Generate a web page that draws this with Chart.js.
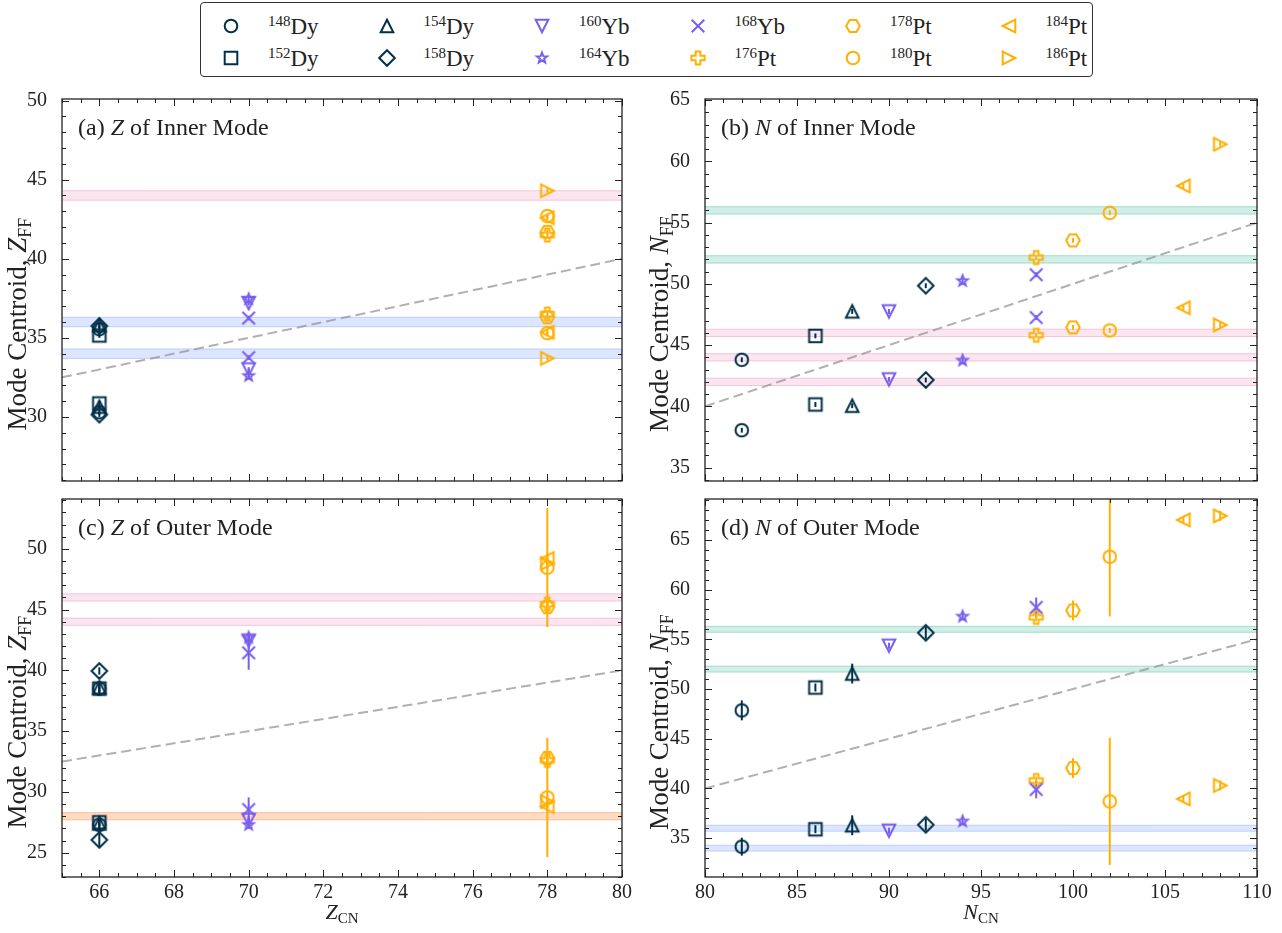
<!DOCTYPE html>
<html lang="en">
<head>
<meta charset="UTF-8">
<title>Mode centroids</title>
<script src="https://cdn.jsdelivr.net/npm/chart.js"></script>
<style>
  body { margin: 0; background: #fff; width: 1282px; height: 933px; position: relative; overflow: hidden; font-family: 'Liberation Serif', serif; color: #222; }
  #legend { position: absolute; left: 200px; top: 2px; width: 893px; height: 75px; border: 1px solid #333; border-radius: 4px; box-sizing: border-box; }
  .lab { position: absolute; font-size: 23px; line-height: 23px; white-space: nowrap; }
  .lab sup { font-size: 15px; vertical-align: 8px; line-height: 0; }
  .mk { position: absolute; }
</style>
</head>
<body>
<div id="legend"></div>
<script>
// isotopes (compound nuclei)
const massNums = ['148','152','154','158','160','164','168','176','178','180','184','186'];
const elements = ['Dy','Dy','Dy','Dy','Yb','Yb','Yb','Pt','Pt','Pt','Pt','Pt'];
const shapes   = ['o','s','^','D','v','*','x','P','H','o','<','>'];
const zCN = [66,66,66,66,70,70,70,78,78,78,78,78];
const nCN = [82,86,88,92,90,94,98,98,100,102,106,108];

// (a) Z of inner mode (upper / lower peak)
const zInnerHi = [35.55, 35.15, 35.8, 35.75, 37.2, 37.45, 36.25, 41.5, 41.7, 42.7, 42.6, 44.3];
const zInnerLo = [30.3, 30.85, 30.65, 30.15, 33.0, 32.6, 33.75, 36.5, 36.3, 35.3, 35.35, 33.7];
const zInnerErr = [0.15, 0.15, 0.15, 0.15, 0.15, 0.15, 0.15, 0.15, 0.15, 0.15, 0.15, 0.15];

// (b) N of inner mode
const nInnerHi = [43.8, 45.75, 47.75, 49.85, 47.75, 50.25, 50.75, 52.15, 53.55, 55.8, 58.0, 61.4];
const nInnerLo = [38.05, 40.15, 40.05, 42.15, 42.2, 43.75, 47.25, 45.8, 46.45, 46.2, 48.05, 46.65];
const nInnerErr = [0.2, 0.2, 0.2, 0.2, 0.2, 0.2, 0.2, 0.2, 0.2, 0.2, 0.2, 0.2];

// (c) Z of outer mode
const zOuterHi = [38.5, 38.5, 38.6, 39.95, 42.45, 42.7, 41.45, 45.45, 45.2, 48.45, 49.2, 48.8];
const zOuterLo = [27.3, 27.5, 27.4, 26.05, 27.7, 27.3, 28.55, 32.6, 32.8, 29.55, 28.8, 29.2];
const zOuterErrHi = [0.6, 0.3, 0.5, 0.3, 0.3, 0.3, 1.4, 0.4, 0.4, 4.9, 0.5, 0.5];
const zOuterErrLo = [0.7, 0.3, 0.5, 0.5, 0.3, 0.3, 1.0, 0.4, 0.4, 4.9, 0.5, 0.5];

// (d) N of outer mode
const nOuterHi = [47.85, 50.15, 51.55, 55.65, 54.35, 57.3, 58.2, 57.2, 57.9, 63.3, 67.0, 67.4];
const nOuterLo = [34.15, 35.9, 36.3, 36.35, 35.75, 36.7, 39.9, 40.8, 42.05, 38.7, 38.95, 40.3];
const nOuterErrHi = [1.0, 0.4, 1.0, 0.6, 0.3, 0.3, 1.0, 0.4, 1.0, 6.0, 0.3, 0.5];
const nOuterErrLo = [0.9, 0.4, 1.0, 0.6, 0.3, 0.3, 0.9, 0.4, 1.0, 6.4, 0.3, 0.5];

// shell-gap bands
const bandsA = [44, 36, 34],         bandsAKind = ['pink', 'blue', 'blue'];
const bandsB = [56, 52, 46, 44, 42], bandsBKind = ['green', 'green', 'pink', 'pink', 'pink'];
const bandsC = [46, 44, 28],         bandsCKind = ['pink', 'pink', 'orange'];
const bandsD = [56, 52, 36, 34],     bandsDKind = ['green', 'green', 'blue', 'blue'];

// tick labels
const zTicks = [66, 68, 70, 72, 74, 76, 78, 80];
const nTicks = [80, 85, 90, 95, 100, 105, 110];
const yTicksA = [30, 35, 40, 45, 50];
const yTicksB = [35, 40, 45, 50, 55, 60, 65];
const yTicksC = [25, 30, 35, 40, 45, 50];
const yTicksD = [35, 40, 45, 50, 55, 60, 65];

const colorOf = { Dy: '#003049', Yb: '#785ef0', Pt: '#ffb000' };
const bandFill = { pink: 'rgba(220,38,127,0.12)', blue: 'rgba(100,143,255,0.22)', green: 'rgba(30,175,135,0.2)', orange: 'rgba(254,110,20,0.25)' };
const bandEdge = { pink: 'rgba(220,38,127,0.22)', blue: 'rgba(100,143,255,0.35)', green: 'rgba(30,175,135,0.35)', orange: 'rgba(254,110,20,0.35)' };
const FONT = "'Liberation Serif', serif";
const INK = '#222';

Chart.defaults.font.family = FONT;
Chart.defaults.color = INK;

function markerCanvas(shape, color) {
  const c = document.createElement('canvas');
  c.width = 24; c.height = 24;
  const g = c.getContext('2d');
  g.translate(12, 12);
  g.strokeStyle = color;
  g.lineWidth = 2;
  g.beginPath();
  const poly = pts => { pts.forEach(([px, py], k) => k ? g.lineTo(px, py) : g.moveTo(px, py)); g.closePath(); };
  const r = 6.3;
  if (shape === 'o') g.arc(0, 0, r, 0, Math.PI * 2);
  else if (shape === 's') g.rect(-r, -r, 2 * r, 2 * r);
  else if (shape === '^') poly([[0, -r], [r, r], [-r, r]]);
  else if (shape === 'v') poly([[0, r], [r, -r], [-r, -r]]);
  else if (shape === '<') poly([[-r, 0], [r, -r], [r, r]]);
  else if (shape === '>') poly([[r, 0], [-r, -r], [-r, r]]);
  else if (shape === 'D') poly([[0, -7.8], [7.8, 0], [0, 7.8], [-7.8, 0]]);
  else if (shape === 'x') { g.moveTo(-r, -r); g.lineTo(r, r); g.moveTo(r, -r); g.lineTo(-r, r); }
  else if (shape === '*') {
    const pts = [];
    for (let k = 0; k < 10; k++) {
      const rr = k % 2 ? 2.3 : 5.4, an = -Math.PI / 2 + k * Math.PI / 5;
      pts.push([rr * Math.cos(an), rr * Math.sin(an)]);
    }
    poly(pts);
  } else if (shape === 'H') {
    const pts = [];
    for (let k = 0; k < 6; k++) { const an = k * Math.PI / 3; pts.push([6.8 * Math.cos(an), 6.8 * Math.sin(an)]); }
    poly(pts);
  } else if (shape === 'P') {
    const w = 2.3, L = 6.6;
    poly([[-w, -L], [w, -L], [w, -w], [L, -w], [L, w], [w, w], [w, L], [-w, L], [-w, w], [-L, w], [-L, -w], [-w, -w]]);
  }
  g.stroke();
  return c;
}

const markers = shapes.map((s, i) => markerCanvas(s, colorOf[elements[i]]));

// legend (html)
const legend = document.getElementById('legend');
massNums.forEach((m, i) => {
  const col = Math.floor(i / 2), row = i % 2;
  const mx = 230 + col * 155.5 - 200, my = 25 + row * 32 - 2;
  const mk = markerCanvas(shapes[i], colorOf[elements[i]]);
  mk.className = 'mk';
  mk.style.left = (mx - 12) + 'px';
  mk.style.top = (my - 12) + 'px';
  legend.appendChild(mk);
  const t = document.createElement('div');
  t.className = 'lab';
  t.style.left = (267 + col * 155.5 - 200) + 'px';
  t.style.top = (my - 11) + 'px';
  t.innerHTML = '<sup>' + m + '</sup>' + elements[i];
  legend.appendChild(t);
});

function drawRich(ctx, parts, x, y, align) {
  let w = 0;
  parts.forEach(p => { ctx.font = p.font; w += ctx.measureText(p.t).width; });
  let cx = align === 'center' ? x - w / 2 : x;
  parts.forEach(p => {
    ctx.font = p.font;
    ctx.fillText(p.t, cx, y + (p.dy || 0));
    cx += ctx.measureText(p.t).width;
  });
}

const rom = sz => `${sz}px ${FONT}`;
const ita = sz => `italic ${sz}px ${FONT}`;

function decoPlugin(cfg) {
  return {
    id: 'deco',
    beforeDatasetsDraw(chart) {
      const { ctx, chartArea: a, scales: { x, y } } = chart;
      ctx.save();
      ctx.beginPath();
      ctx.rect(a.left, a.top, a.right - a.left, a.bottom - a.top);
      ctx.clip();
      cfg.bands.forEach((b, k) => {
        const y1 = y.getPixelForValue(b + 0.3), y2 = y.getPixelForValue(b - 0.3);
        ctx.fillStyle = bandFill[cfg.bandKind[k]];
        ctx.fillRect(a.left, y1, a.right - a.left, y2 - y1);
        ctx.strokeStyle = bandEdge[cfg.bandKind[k]];
        ctx.lineWidth = 1;
        ctx.beginPath();
        ctx.moveTo(a.left, y1); ctx.lineTo(a.right, y1);
        ctx.moveTo(a.left, y2); ctx.lineTo(a.right, y2);
        ctx.stroke();
      });
      // error bars
      ctx.lineWidth = 2;
      cfg.xs.forEach((xv, i) => {
        ctx.strokeStyle = colorOf[elements[i]];
        const px = x.getPixelForValue(xv);
        [[cfg.hi[i], cfg.errHi[i]], [cfg.lo[i], cfg.errLo[i]]].forEach(([v, e]) => {
          ctx.beginPath();
          ctx.moveTo(px, y.getPixelForValue(v - e));
          ctx.lineTo(px, y.getPixelForValue(v + e));
          ctx.stroke();
        });
      });
      ctx.restore();
    },
    afterDraw(chart) {
      const { ctx, chartArea: a, scales: { x, y } } = chart;
      ctx.save();
      ctx.strokeStyle = INK;
      ctx.lineWidth = 1;
      ctx.beginPath();
      const n = Math.round((x.max - x.min) / cfg.xMinor);
      for (let k = 0; k <= n; k++) {
        const v = x.min + k * cfg.xMinor;
        const major = Math.abs(v / cfg.xMajor - Math.round(v / cfg.xMajor)) < 1e-6;
        const len = major ? 7 : 4;
        const px = Math.round(x.getPixelForValue(v)) + 0.5;
        ctx.moveTo(px, a.bottom); ctx.lineTo(px, a.bottom - len);
        ctx.moveTo(px, a.top); ctx.lineTo(px, a.top + len);
      }
      for (let v = Math.ceil(y.min); v <= y.max; v++) {
        const major = v % 5 === 0;
        const len = major ? 7 : 4;
        const py = Math.round(y.getPixelForValue(v)) + 0.5;
        ctx.moveTo(a.left, py); ctx.lineTo(a.left + len, py);
        ctx.moveTo(a.right, py); ctx.lineTo(a.right - len, py);
      }
      ctx.stroke();
      ctx.lineWidth = 1.3;
      ctx.strokeRect(a.left, a.top, a.right - a.left, a.bottom - a.top);

      ctx.fillStyle = INK;
      ctx.textBaseline = 'alphabetic';
      // panel title
      drawRich(ctx, [
        { t: cfg.tag + ' ', font: rom(24) },
        { t: cfg.sym, font: ita(24) },
        { t: ' of ' + cfg.mode + ' Mode', font: rom(24) }
      ], a.left + 16, a.top + 36, 'left');
      // y title
      ctx.save();
      ctx.translate(cfg.yTitleX, (a.top + a.bottom) / 2 + cfg.yTitleShift);
      ctx.rotate(-Math.PI / 2);
      drawRich(ctx, [
        { t: 'Mode Centroid, ', font: rom(27) },
        { t: cfg.sym, font: ita(27) },
        { t: 'FF', font: rom(18), dy: 5 }
      ], 0, 8, 'center');
      ctx.restore();
      // x title
      if (cfg.showX) {
        drawRich(ctx, [
          { t: cfg.sym, font: ita(22) },
          { t: 'CN', font: rom(15), dy: 4 }
        ], (a.left + a.right) / 2, a.bottom + 42, 'center');
      }
      ctx.restore();
    }
  };
}

function makeChart(cfg) {
  const cv = document.createElement('canvas');
  cv.width = cfg.w; cv.height = cfg.h;
  cv.style.cssText = `position:absolute;left:${cfg.left}px;top:${cfg.top}px;`;
  document.body.appendChild(cv);

  const datasets = [{
    data: [cfg.xMin, cfg.xMax].map(v => ({ x: v, y: v / 2 })),
    showLine: true,
    borderColor: 'rgba(150,150,150,0.75)',
    borderWidth: 2,
    borderDash: [10, 5],
    pointRadius: 0,
    order: 20
  }];
  massNums.forEach((m, i) => {
    datasets.push({
      label: m + elements[i],
      data: [{ x: cfg.xs[i], y: cfg.hi[i] }, { x: cfg.xs[i], y: cfg.lo[i] }],
      pointStyle: markers[i],
      pointRadius: 7,
      order: 1
    });
  });

  new Chart(cv, {
    type: 'scatter',
    data: { datasets },
    options: {
      responsive: false,
      animation: false,
      devicePixelRatio: 1,
      events: [],
      layout: { padding: { top: cfg.padTop, right: cfg.padRight, left: 0, bottom: 0 } },
      plugins: { legend: { display: false }, tooltip: { enabled: false } },
      scales: {
        x: {
          type: 'linear', min: cfg.xMin, max: cfg.xMax,
          grid: { display: false }, border: { display: false },
          ticks: { display: cfg.showX, padding: -4, autoSkip: false, maxRotation: 0, font: { size: 20 }, color: INK },
          afterBuildTicks: s => { s.ticks = cfg.xTicks.map(v => ({ value: v })); },
          afterFit: s => { s.height = cfg.axisH; }
        },
        y: {
          type: 'linear', min: cfg.yMin, max: cfg.yMax,
          grid: { display: false }, border: { display: false },
          ticks: { padding: 7, autoSkip: false, font: { size: 20 }, color: INK },
          afterBuildTicks: s => { s.ticks = cfg.yTicks.map(v => ({ value: v })); },
          afterFit: s => { s.width = cfg.axisW; }
        }
      }
    },
    plugins: [decoPlugin(cfg)]
  });
}

const leftCol = { left: 0, w: 640, padRight: 18, axisW: 62, xMin: 65, xMax: 80, xTicks: zTicks, xMajor: 2, xMinor: 0.5, xs: zCN, sym: 'Z', yTitleX: 18, yTitleShift: 34 };
const rightCol = { left: 640, w: 642, padRight: 25, axisW: 65, xMin: 80, xMax: 110, xTicks: nTicks, xMajor: 5, xMinor: 1, xs: nCN, sym: 'N', yTitleX: 20, yTitleShift: 34 };
const topRow = { top: 80, h: 420, padTop: 17, axisH: 13, showX: false, mode: 'Inner' };
const botRow = { top: 480, h: 453, padTop: 7, axisH: 56, showX: true, mode: 'Outer' };

makeChart({ ...leftCol, ...topRow, tag: '(a)', yMin: 25.95, yMax: 50.1, yTicks: yTicksA,
  hi: zInnerHi, lo: zInnerLo, errHi: zInnerErr, errLo: zInnerErr, bands: bandsA, bandKind: bandsAKind });
makeChart({ ...rightCol, ...topRow, tag: '(b)', yMin: 33.9, yMax: 65.1, yTicks: yTicksB,
  hi: nInnerHi, lo: nInnerLo, errHi: nInnerErr, errLo: nInnerErr, bands: bandsB, bandKind: bandsBKind });
makeChart({ ...leftCol, ...botRow, tag: '(c)', yMin: 23.0, yMax: 54.1, yTicks: yTicksC,
  hi: zOuterHi, lo: zOuterLo, errHi: zOuterErrHi, errLo: zOuterErrLo, bands: bandsC, bandKind: bandsCKind });
makeChart({ ...rightCol, ...botRow, tag: '(d)', yMin: 31.1, yMax: 69.1, yTicks: yTicksD,
  hi: nOuterHi, lo: nOuterLo, errHi: nOuterErrHi, errLo: nOuterErrLo, bands: bandsD, bandKind: bandsDKind });
</script>
</body>
</html>
